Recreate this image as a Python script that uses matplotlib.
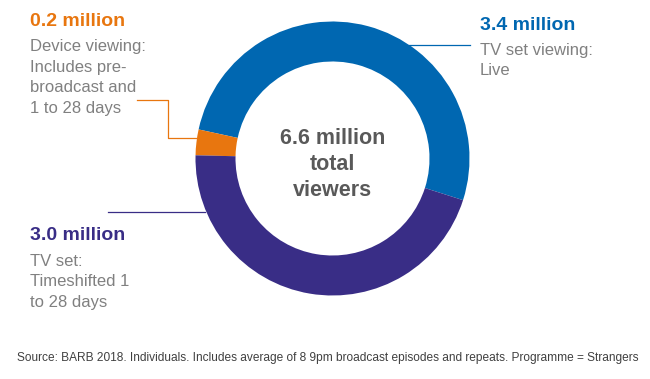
import matplotlib

matplotlib.use("Agg")
import matplotlib.pyplot as plt

# viewing split for "Strangers", millions
segments = ["TV set viewing: Live", "Device viewing", "TV set: Timeshifted"]
viewers = [3.4, 0.2, 3.0]
colors = ["#0067B1", "#E8760F", "#392D86"]

value_labels = ["3.4 million", "0.2 million", "3.0 million"]
desc_lines = [
    ["TV set viewing:", "Live"],
    ["Device viewing:", "Includes pre-", "broadcast and", "1 to 28 days"],
    ["TV set:", "Timeshifted 1", "to 28 days"],
]
centre_lines = ["6.6 million", "total", "viewers"]
source = ("Source: BARB 2018. Individuals. Includes average of 8 9pm broadcast "
          "episodes and repeats. Programme = Strangers")

W, H = 650, 379
GREY = "#808080"

fig = plt.figure(figsize=(W / 100, H / 100), dpi=100)
ax = fig.add_axes([0, 0, 1, 1])

cx, cy, r = 332.5, H - 158.5, 137
ax.pie(viewers, colors=colors, startangle=-17.7, counterclock=True,
       radius=r, center=(cx, cy), wedgeprops=dict(width=40, linewidth=0))
ax.set_xlim(0, W)
ax.set_ylim(0, H)
ax.set_aspect("equal")
ax.axis("off")


def py(y):
    # pixel rows from the top -> data y
    return H - y


def block(x, y0, head, lines, color):
    ax.text(x, py(y0), head, color=color, fontsize=14, fontweight="bold",
            family="Liberation Sans", va="center", ha="left")
    for i, line in enumerate(lines):
        ax.text(x, py(y0 + 25 + i * 20.5), line, color=GREY, fontsize=12,
                family="Liberation Sans", va="center", ha="left")


block(480, 25, value_labels[0], desc_lines[0], colors[0])
block(30, 22, value_labels[1], desc_lines[1], colors[1])
block(30, 236, value_labels[2], desc_lines[2], colors[2])

# leader lines
lw = 0.9
ax.plot([409, 470], [py(44.5), py(44.5)], color=colors[0], lw=lw)
ax.plot([137, 168, 168, 197], [py(100), py(100), py(138), py(138)],
        color=colors[1], lw=lw)
ax.plot([108, 205], [py(212), py(212)], color=colors[2], lw=lw)

for i, line in enumerate(centre_lines):
    ax.text(cx, py(138 + i * 26.5), line, color="#595959", fontsize=15.5,
            fontweight="bold", family="Liberation Sans", ha="center", va="center")

ax.text(328, py(358), source, color="#404040", fontsize=8.6,
        family="Liberation Sans", ha="center", va="center")

fig.savefig("out.png", dpi=100)
